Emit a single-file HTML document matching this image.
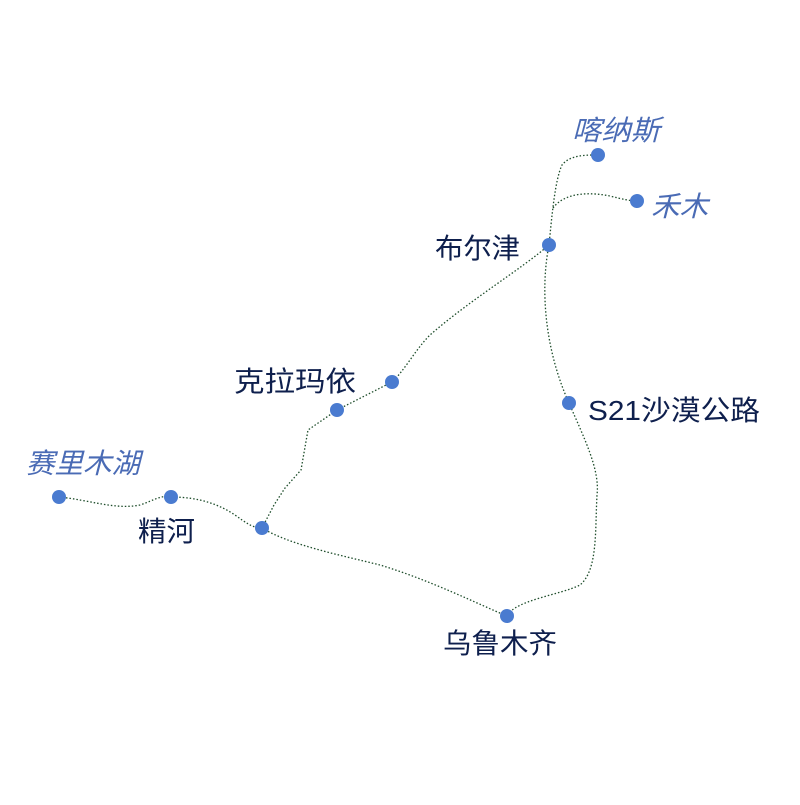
<!DOCTYPE html>
<html><head><meta charset="utf-8"><style>
html,body{margin:0;padding:0;background:#fff;}
svg text{font-family:"Liberation Sans","Noto Sans CJK SC",sans-serif;font-size:28px;}
.d{fill:#0e1f4d;}
.i{fill:#4a6bb5;font-style:italic;}
path{fill:none;stroke:#1e4d2b;stroke-width:1.3;stroke-dasharray:1.5 2;}
circle{fill:#4a7bd0;}
</style></head><body>
<svg width="800" height="800" viewBox="0 0 800 800">
<path d="M549,245 C552,215 555,180 562,165 C570,155 585,155 598,155"/>
<path d="M553,208 C565,192 590,192 610,196 C622,199 630,201 637,201"/>
<path d="M549,245 C520,270 470,300 430,335 C415,350 405,370 392,382"/>
<path d="M392,382 L337,410 L308,430 L301,470 L285,488 L274,505 L262,528"/>
<path d="M59,497 C90,500 115,510 140,505 C155,500 160,495 171,497 C200,497 220,505 235,515 C245,522 252,528 262,528"/>
<path d="M262,528 C290,545 340,555 380,565 C430,580 480,605 507,616"/>
<path d="M549,245 C540,290 545,350 569,403 C585,440 600,470 597,495 C595,530 598,570 580,585 C560,595 515,600 507,616"/>
<circle cx="598" cy="155" r="7"/>
<circle cx="637" cy="201" r="7"/>
<circle cx="549" cy="245" r="7"/>
<circle cx="392" cy="382" r="7"/>
<circle cx="337" cy="410" r="7"/>
<circle cx="569" cy="403" r="7"/>
<circle cx="59" cy="497" r="7"/>
<circle cx="171" cy="497" r="7"/>
<circle cx="262" cy="528" r="7"/>
<circle cx="507" cy="616" r="7"/>
<text class="i" x="572" y="140" textLength="88" lengthAdjust="spacingAndGlyphs">喀纳斯</text>
<text class="i" x="651" y="216" textLength="57" lengthAdjust="spacingAndGlyphs">禾木</text>
<text class="d" x="435" y="258" textLength="85" lengthAdjust="spacingAndGlyphs">布尔津</text>
<text class="d" x="234" y="391" textLength="122" lengthAdjust="spacingAndGlyphs">克拉玛依</text>
<text class="d" x="588" y="420" textLength="172" lengthAdjust="spacingAndGlyphs">S21沙漠公路</text>
<text class="i" x="26" y="473" textLength="114" lengthAdjust="spacingAndGlyphs">赛里木湖</text>
<text class="d" x="138" y="541" textLength="57" lengthAdjust="spacingAndGlyphs">精河</text>
<text class="d" x="443" y="653" textLength="114" lengthAdjust="spacingAndGlyphs">乌鲁木齐</text>
</svg>
</body></html>
